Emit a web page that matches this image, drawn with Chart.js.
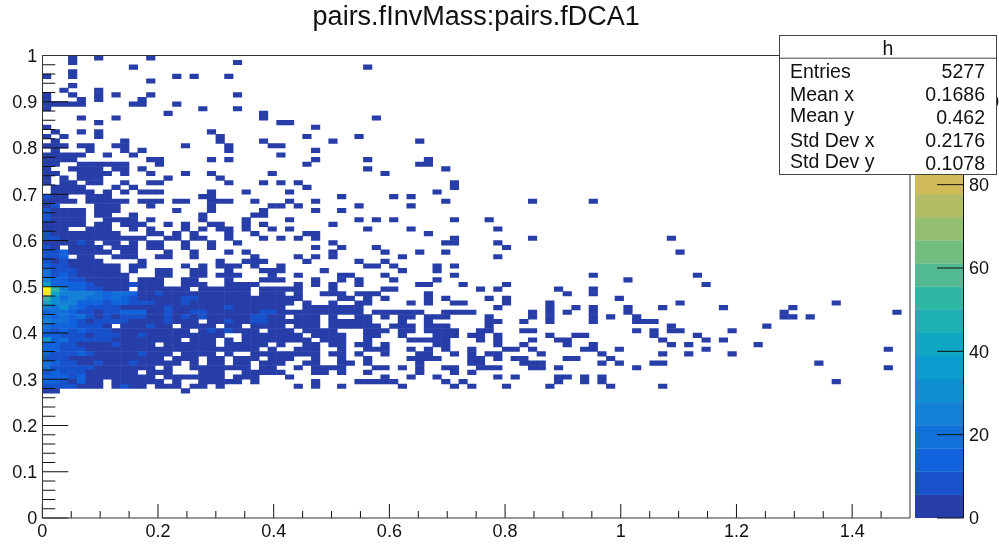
<!DOCTYPE html>
<html>
<head>
<meta charset="utf-8">
<style>html,body{margin:0;padding:0;background:#fff}canvas{display:block}</style>
<script src="https://cdn.jsdelivr.net/npm/chart.js@4"></script>
</head>
<body>
<div style="width:999px;height:544px"><canvas id="c" width="999" height="544"></canvas></div>
<script>
const titleText = "pairs.fInvMass:pairs.fDCA1";
const statsName = "h";
const statsLabels = ["Entries", "Mean x", "Mean y", "Std Dev x", "Std Dev y"];
const statsValues = ["5277", "0.1686", "0.462", "0.2176", "0.1078"];

const binSizeX = 0.015;
const binSizeY = 0.01;
const defaultCount = 2;
const zMax = 111;
const zLevels = 20;

// occupied x bins of every y row, top row (y bin 99) first
const occupiedBins = [
"3 6 12","3 22","10 37","3","0 3 15 17 21","12","3","2 6","0 3 6 8 12 22","0 4 6 11",
"0-4 10 11 15","0 18 22","14 25","4 8 25 38","6 27 28","0 31","1 4 6 19","0 2 6 20 30 36","1 9 20 25 33 43","0-2 4 5 8 9 16 21 26 27",
"1 5 9 11 21 31","0-4 7 10 27","0-3 12 13 19 21 31 37 44","0 1 4-9 13 30 43 44","0 3-6 8 9 11 37 46","0 1 4-7 9 12 16 19 26 39","0 2 4-6 14 20","0 2 3 5 6 9 12 13 21 25 27 29 47","1-4 8 10 30 47","1-5 7 9 11-13 19 23 28 45",
"0-2 5-7 18 19 34 40 42","0-3 5-9 11-13 15 16 19-21 24 28 31 46 56 63","0 1 6-8 12 19 26 27 29 36 42","0-4 6-8 15 19 25 31 34","0-4 6 7 10 18 24 25","0-4 7-10 12 18 23 28 36 38 40 47 51","0-4 6 7 9-11 14 16 19 20 23 25 33","0-2 5-7 10 12 16 18 20 21 23 26 28 37 42 52","0-8 12 13 15 17 21 24 30 31 44","0-11 14 15 17 18 21 25 27 29 31 47 56 72",
"0-5 7 8 10 12 13 16 19 22 33 46 47 52","0 1 3-6 8-10 12 13 16 19 31 34 38 53","0-7 9 10 14 17 21 23 33 39 43 46 73","0-2 4 5 8-10 13 14 17 24 29 31 33 41 52","0-6 11 20 23-25 30 36 39","0-8 10 11 16 18 20-22 24 27 37 38 40 45 47","0-8 10 13 14 17 18 21 25-27 32 41 45","0-9 13 14 17 18 20-22 26 29 34 35 39 47 63 75","0-9 11-13 16 17 21 25-27 31 34 36 40 45 67","0-13 16-18 21-24 29 31 33 36 43 44 48 53 76",
"0-9 11-16 18-23 25-29 33 39 40 50 52 59 63","0-23 25-27 29 32-34 36-38 44 60 63","0-29 34 35 37 39 44 46 51 53 66","0-28 30 33 36 37 42 44 47 48 53 58 73 91","0-27 30-36 52 58 61 63 67 71 78 86","0-36 38-43 46-49 56 58 60 63 67 85 98","0-27 29-31 33 36 37 39 41 42 44-46 51 56 58 63 65 68 85 86 88","0-17 19-31 33-37 41 44 51 52 55 58 63 68-70","0-7 9-14 16-19 21 22 24-27 29-31 33-38 40-42 44-46 51 72 83","0-16 18-24 26-28 30-33 37-39 41 42 44-47 50 51 55 56 68 70 72 73 79",
"0-20 23-29 31-34 37 38 41 45-47 49 50 52 58 61 62 70 75","0-15 17-19 21 23-30 32-34 37 42-46 50 52 56 59 60 71 76 78","0-12 14-19 21-25 27 30 31 33 34 36 37 39 45 46 52 55 60 63 72 74 82","0-24 26 29-31 34 37-39 42 44 46 49 53 54 56 62 63 66 76 97","0-14 16-19 21 24-31 33 34 36 39 43 44 47 49 51 52 57 64 71 74 79","0-13 15-17 19 20 22-24 26-28 31 34 37 42-45 49 50 52 54 55 60 61 65","0-15 17 19 20 22 23 25-27 30 31 34 35 37 43 49 50 55-57 64 66 70 71 89","0-12 14 17-23 25 26 29 31-34 38 39 41 43 46 47 50-52 56 57 59 68 97","0-10 12-14 18-20 23-27 31 32 34 37 43 47 49","0-12 14-20 22-24 28 39 42 45 52 54 59 60 62 64",
"0-6 8-13 15 18-22 24 31 36-40 46 48 59 62 64 91","0-6 8-11 13-15 17 18 20 29 31 34 41 47 49 53 58 65 71","0 1 16"
];

// estimated counts of the first x bins, keyed by row position from the top
const hotCounts = {
30:[8], 32:[2,8], 33:[8], 34:[8], 35:[8], 38:[8], 39:[8,8],
41:[8], 42:[8,8,14], 43:[8,8,14], 44:[8,2,8], 45:[14,8,8], 46:[19,8,8,8], 47:[19,8,14,8], 48:[25,14,14,8,8],
49:[36,14,14,14,14,8],
50:[108,53,25,14,14,8,8],
51:[103,41,25,25,25,25,19,14,19,19,14],
52:[53,30,19,25,25,19,19,14,19,14,8],
53:[41,30,25,25,14,14,14,8,14,14,8,8,8],
54:[25,19,30,19,14,8,8,8,8],
55:[14,19,19,14,8,8,2,8,8,14,14,14],
56:[19,14,19,14,19,8,2,8,2,8,8,8],
57:[25,19,19,14,8,2,8,8,8,8],
58:[19,14,14,14,8,8,8],
59:[14,8,14,8,14,8,8,8],
60:[14,14,8,8,8,2,8,8,8],
61:[36,14,19,8,8,8,8,8],
62:[14,14,8,8,2,2,2,2,8],
63:[14,14,8,8,8],
64:[14,8,8,8,14,8],
65:[8,8,8],
66:[19,14,8,8,2,2,8],
67:[19,8,8,8,8,8],
68:[8,14,8,8,8],
69:[14,14,14,8,14],
70:[14,14,8,2,14],
71:[8,8,8,8]
};

// estimated counts of single bins further right: [row from top, x bin, count]
const warmBins = [
[40,4,8],[49,10,8],[51,13,8],[52,16,8],[52,17,8],[53,16,8],[54,14,8],[54,21,8],
[55,14,8],[55,17,8],[55,18,8],[55,25,8],[55,26,8],[56,14,8],[56,16,8],[56,18,8],[56,24,8],[56,25,8],
[57,14,8],[57,21,8],[57,24,8],[57,25,8],[58,12,8],[59,19,8],[59,21,8],[60,11,8],[64,11,8],[66,10,8],[71,9,8]
];

const xTicksMax = 1.45;
const zStep = 20;

function bird(f){
  const r=[.2082,.0592,.0780,.0232,.1802,.5301,.8186,.9956,.9764];
  const g=[.1664,.3599,.5041,.6419,.7178,.7492,.7328,.7862,.9832];
  const b=[.5293,.8684,.8385,.7914,.6425,.4662,.3499,.1968,.0539];
  const p=f*8, i=Math.min(7,Math.floor(p)), t=p-i;
  const m=a=>Math.round(255*(a[i]+(a[i+1]-a[i])*t));
  return `rgb(${m(r)},${m(g)},${m(b)})`;
}
const bandColor = k => bird(Math.floor((k+0.99)*255/zLevels)/255);
const colorForCount = v => bandColor(Math.min(zLevels-1,Math.floor(v/zMax*zLevels)));

function expand(s){
  const out=[];
  s.split(" ").forEach(tok=>{
    const p=tok.split("-").map(Number);
    for(let c=p[0];c<=(p.length>1?p[1]:p[0]);c++) out.push(c);
  });
  return out;
}
const warmLookup = {};
warmBins.forEach(w=>{warmLookup[w[0]+":"+w[1]]=w[2];});
const cells=[];
occupiedBins.forEach((row,t)=>{
  expand(row).forEach(c=>{
    let v=defaultCount;
    if(hotCounts[t] && c<hotCounts[t].length) v=hotCounts[t][c];
    if(warmLookup[t+":"+c]) v=warmLookup[t+":"+c];
    cells.push({x:(c+0.5)*binSizeX, y:[(99-t)*binSizeY,(100-t)*binSizeY], v:v});
  });
});

const FONT='"Liberation Sans", Arial, sans-serif';
const INK='#111';
const tickText = v => String(+(+v).toFixed(2));

const rootFrame={
  id:'rootFrame',
  beforeDatasetsDraw(chart){
    const ctx=chart.ctx, z=chart.scales.z;
    ctx.save();
    for(let k=0;k<zLevels;k++){
      const y0=z.getPixelForValue(k*zMax/zLevels), y1=z.getPixelForValue((k+1)*zMax/zLevels);
      ctx.fillStyle=bandColor(k);
      ctx.fillRect(915,y1-0.3,48.3,y0-y1+0.3);
    }
    ctx.restore();
  },
  afterDatasetsDraw(chart){
    const ctx=chart.ctx, xs=chart.scales.x, ys=chart.scales.y, z=chart.scales.z;
    const a=chart.chartArea;
    ctx.save();
    ctx.strokeStyle=INK; ctx.lineWidth=1;
    const seg=(x0,y0,x1,y1)=>{ctx.beginPath();ctx.moveTo(x0,y0);ctx.lineTo(x1,y1);ctx.stroke();};
    // x ticks every 0.05, long ones on labelled values
    for(let i=0;i*0.05<=xTicksMax+1e-9;i++){
      const px=xs.getPixelForValue(i*0.05);
      seg(px,a.bottom,px,a.bottom-(i%4===0?14:7));
    }
    // y ticks every 0.02, long ones every 0.1
    for(let i=0;i<=50;i++){
      const py=ys.getPixelForValue(i*0.02);
      seg(a.left,py,a.left+(i%5===0?26:13),py);
    }
    ctx.strokeStyle='#333';
    seg(a.left+0.2,a.top,a.left+0.2,a.bottom);
    seg(a.right,a.top,a.right,a.bottom);
    seg(a.left,a.top,a.right,a.top);
    seg(a.left,a.bottom,a.right,a.bottom);
    // palette axis
    ctx.strokeStyle=INK;
    seg(963.5,a.top,963.5,a.bottom);
    for(let v=0;v<=100;v+=zStep){
      const py=z.getPixelForValue(v);
      seg(937,py,963.5,py);
    }
    ctx.restore();
  },
  afterDraw(chart){
    const ctx=chart.ctx;
    ctx.save();
    ctx.fillStyle='#fff'; ctx.fillRect(779.5,35.5,217,139);
    ctx.strokeStyle='#444'; ctx.lineWidth=1;
    ctx.strokeRect(779.5,35.5,217,139);
    ctx.beginPath();ctx.moveTo(779.5,58.2);ctx.lineTo(996.5,58.2);ctx.stroke();
    ctx.fillStyle=INK; ctx.font='19.5px '+FONT; ctx.textBaseline='alphabetic';
    ctx.textAlign='center'; ctx.fillText(statsName,888,54.5);
    const labelYs=[78,101,122,147,168];
    const valueYs=[78,101,124,147,170];
    statsLabels.forEach((s,i)=>{
      ctx.textAlign='left'; ctx.fillText(s,790,labelYs[i]);
      ctx.textAlign='right'; ctx.fillText(statsValues[i],985,valueYs[i]);
    });
    ctx.restore();
  }
};

new Chart(document.getElementById('c'),{
  type:'bar',
  data:{datasets:[{
    data:cells,
    grouped:false,
    barThickness:8.675,
    borderWidth:0,
    inflateAmount:0.25,
    backgroundColor:ctx=>colorForCount(ctx.raw.v)
  }]},
  options:{
    responsive:false,
    maintainAspectRatio:false,
    animation:false,
    events:[],
    layout:{padding:{top:0,right:0,bottom:0,left:0}},
    plugins:{
      legend:{display:false},
      tooltip:{enabled:false},
      title:{display:true,text:titleText,fullSize:false,color:INK,
        font:{family:FONT,size:27,weight:'normal'},padding:{top:1,bottom:22.1}}
    },
    scales:{
      x:{type:'linear',min:0,max:1.5,offset:false,
        grid:{display:false,drawTicks:false},border:{display:false},
        ticks:{stepSize:0.2,includeBounds:false,autoSkip:false,maxRotation:0,padding:3,color:INK,font:{family:FONT,size:18},callback:tickText},
        afterFit(s){s.height=26;}},
      y:{type:'linear',min:0,max:1,
        grid:{display:false,drawTicks:false},border:{display:false},
        ticks:{stepSize:0.1,autoSkip:false,padding:5,labelOffset:1.5,color:INK,font:{family:FONT,size:18},callback:tickText},
        afterFit(s){s.width=42.3;}},
      z:{type:'linear',position:'right',min:0,max:zMax,
        grid:{display:true,drawOnChartArea:false,drawTicks:true,tickLength:54,tickColor:'rgba(0,0,0,0)'},border:{display:false},
        ticks:{stepSize:zStep,includeBounds:false,autoSkip:false,padding:5,labelOffset:1.5,color:INK,font:{family:FONT,size:18},callback:tickText},
        afterFit(s){s.width=89;}}
    }
  },
  plugins:[rootFrame]
});
</script>
</body>
</html>
